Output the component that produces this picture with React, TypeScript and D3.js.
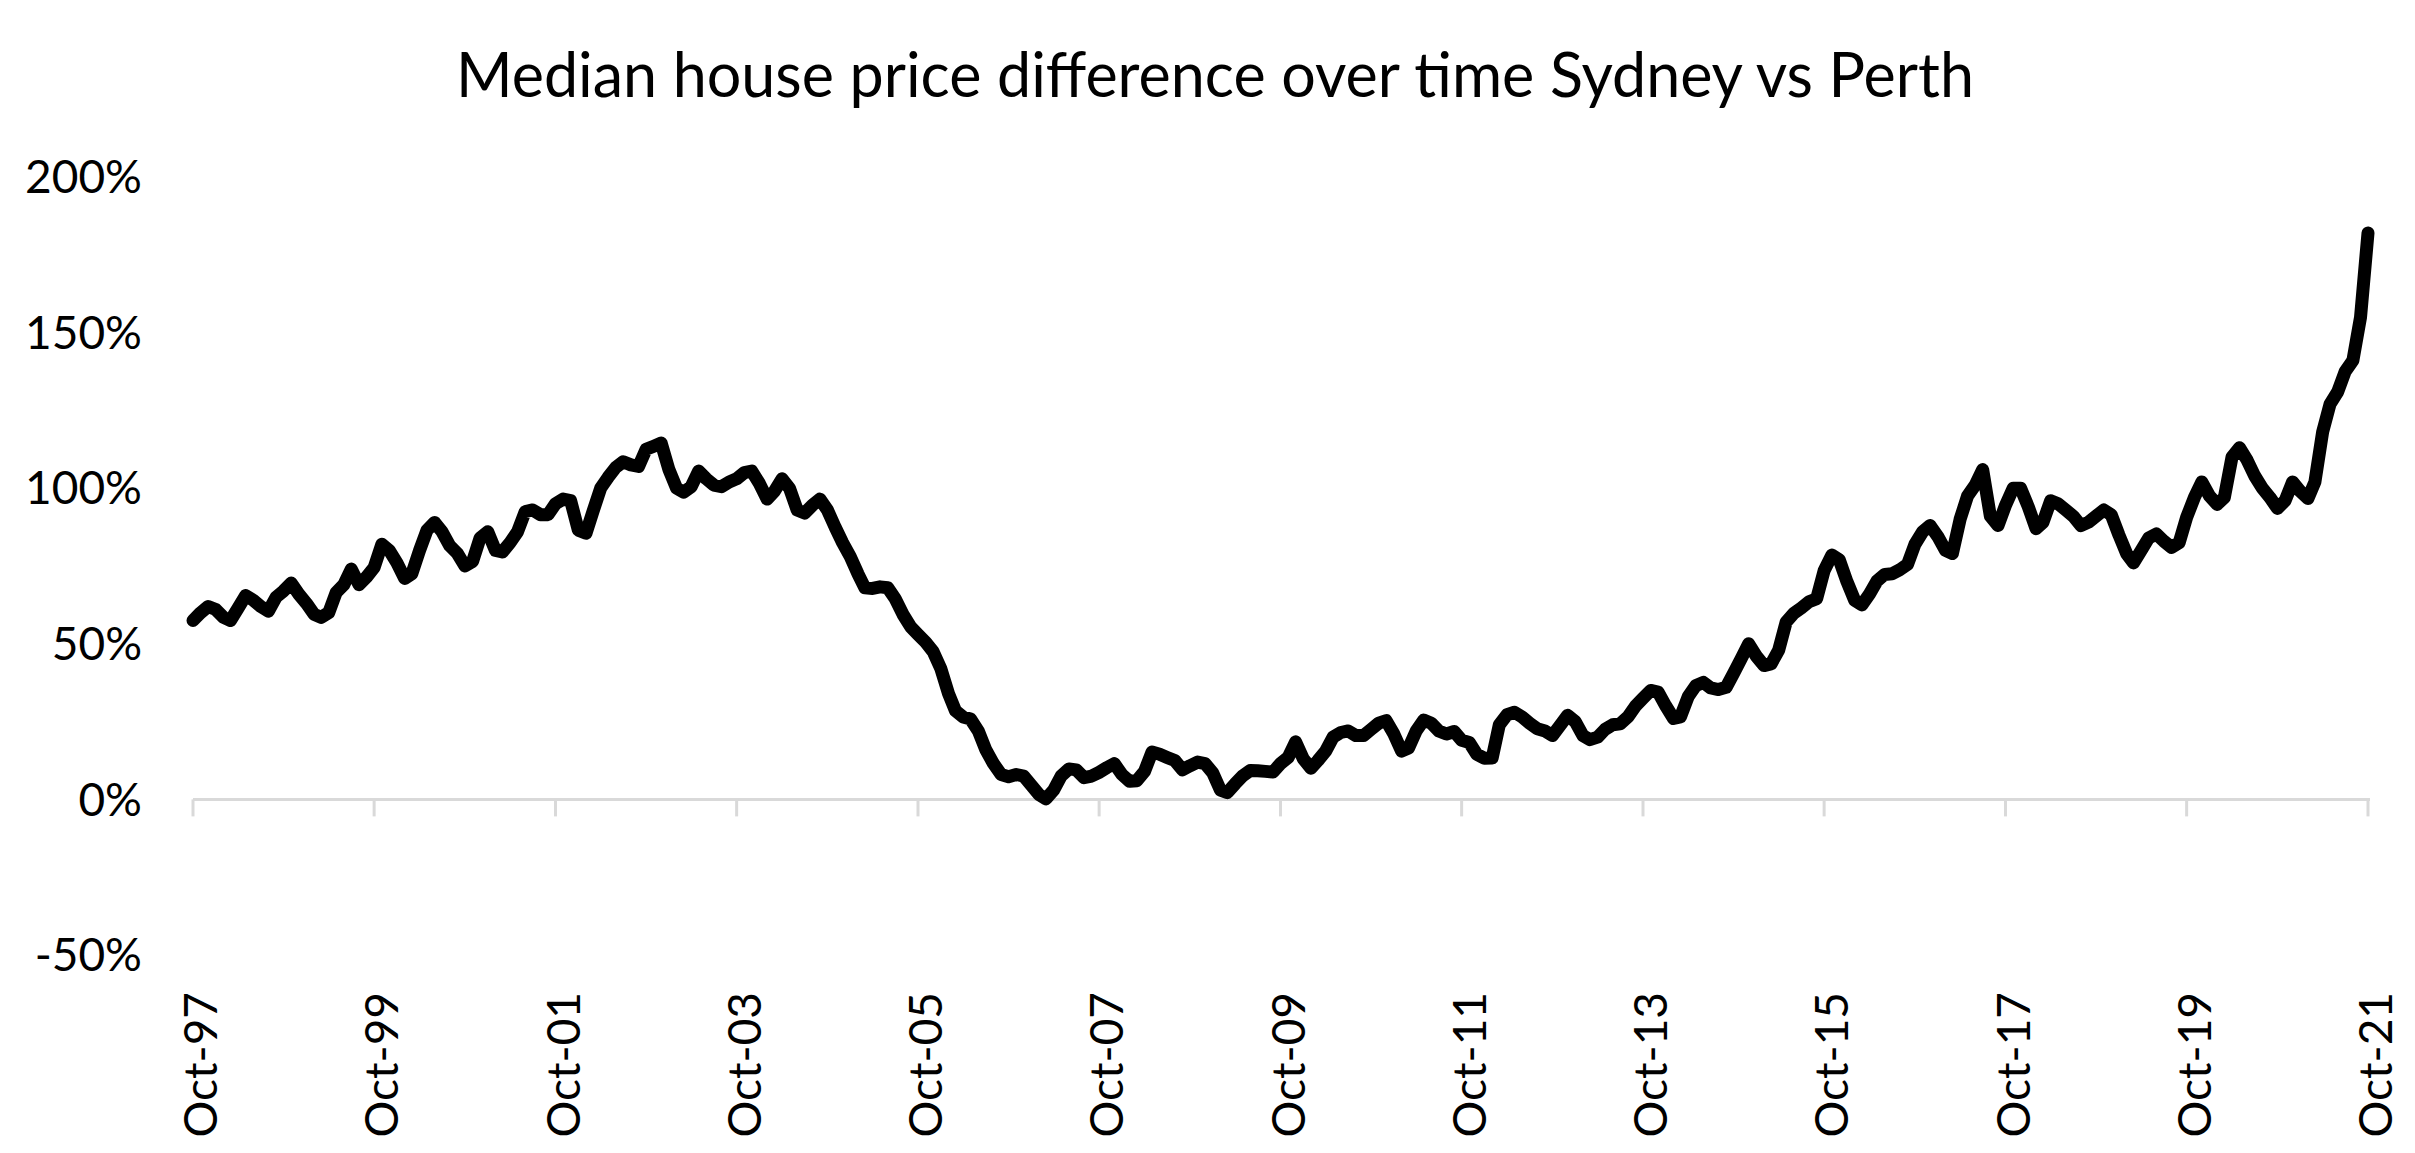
import { useEffect } from "react";
import * as d3 from "d3";

// monthly values, Oct-97 .. Oct-21 (% difference Sydney vs Perth median house price)
const startDate = new Date(1997, 9, 1);
const values: number[] = [
  57.5, 60, 62, 61, 58.5, 57.5, 61.5, 65.5, 64, 62, 60.5, 65,
  67, 69.5, 66, 63, 59.5, 58.5, 60, 66.5, 69, 74, 69, 71.5,
  74.5, 82, 80, 76, 71, 72.5, 80, 86.5, 89, 86, 81.5, 79,
  75, 76.5, 84, 86, 80, 79.5, 82.5, 86, 92.5, 93, 91.5, 91.5,
  95, 96.5, 96, 86.5, 85.5, 92.5, 100, 103.5, 106.7, 108.5, 107.5, 107,
  112.5, 113.5, 114.5, 106, 100, 98.7, 100.5, 105.5, 103, 101, 100.5, 102,
  103, 105, 105.5, 101.5, 96.5, 99, 103, 100, 93, 92, 94.5, 96.5,
  93, 87.5, 82.5, 78, 72.5, 68, 67.8, 68.3, 68, 64.5, 59.5, 55.5,
  53, 50.5, 47.5, 42, 34, 28.5, 26.5, 25.8, 22, 16, 11.5, 8,
  7.3, 8, 7.5, 4.5, 1.5, 0.2, 3, 7.5, 9.8, 9.5, 7, 7.5,
  8.7, 10.2, 11.5, 8, 5.8, 6, 9, 15.2, 14.5, 13.5, 12.5, 9.5,
  10.8, 12, 11.5, 8.5, 3, 2.2, 5, 7.5, 9.3, 9.2, 9, 8.8,
  11.5, 13.5, 18.5, 13, 10, 12.5, 15.5, 20, 21.5, 22, 20.5, 20.5,
  22.5, 24.5, 25.3, 21, 15.5, 16.5, 22, 25.5, 24.5, 22, 21, 21.8,
  19, 18.3, 14.5, 13.2, 13.3, 24, 27.2, 28, 26.5, 24.5, 22.7, 22,
  20.5, 23.8, 27, 25, 20.5, 19.2, 20, 22.5, 24, 24.3, 26.5, 30,
  32.5, 35, 34.5, 30, 26, 26.5, 33, 36.5, 37.6, 35.8, 35.3, 36,
  40.5, 45.3, 50, 46, 43, 43.5, 48, 57, 59.8, 61.5, 63.5, 64.5,
  73.5, 78.5, 77, 70, 64, 62.5, 66, 70.2, 72.3, 72.5, 73.8, 75.5,
  82, 86, 88, 84.5, 80, 79, 90, 97.5, 101, 106, 91, 88,
  94.5, 100, 100, 94, 87, 89, 96, 95, 93, 91, 88, 89.1,
  91, 93, 91.5, 85, 79, 76, 80, 84, 85.3, 83, 81, 82.5,
  90.6, 97, 102, 97.5, 94.8, 97, 110, 113, 109, 104, 100, 97,
  93.5, 96, 102, 99, 96.7, 102, 118, 127, 131, 137.5, 141, 155,
  182,
];

const xTickLabels = [
  "Oct-97", "Oct-99", "Oct-01", "Oct-03", "Oct-05", "Oct-07", "Oct-09",
  "Oct-11", "Oct-13", "Oct-15", "Oct-17", "Oct-19", "Oct-21",
];
const yTicks = [-50, 0, 50, 100, 150, 200];
const title = "Median house price difference over time Sydney vs Perth";

const W = 2415;
const H = 1153;
const FONT = "Lato, 'Open Sans', sans-serif";

export default function App() {
  useEffect(() => {
    document.body.style.margin = "0";
  }, []);

  const dates = values.map((_, i) => d3.timeMonth.offset(startDate, i));
  const endDate = dates[dates.length - 1];

  const x = d3.scaleTime().domain([startDate, endDate]).range([193, 2368]);
  const y = d3.scaleLinear().domain([-50, 200]).range([955, 177]);

  const line = d3
    .line<number>()
    .x((_, i) => x(dates[i]))
    .y((d) => y(d));

  const tickDates = xTickLabels.map((_, i) => d3.timeMonth.offset(startDate, i * 24));
  const y0 = y(0);

  return (
    <svg width={W} height={H} style={{ display: "block", background: "#fff" }}>
      <text
        x={1215}
        y={97}
        textAnchor="middle"
        fontFamily={FONT}
        fontSize={61}
        fill="#000"
      >
        {title}
      </text>

      {yTicks.map((t) => (
        <text
          key={t}
          x={142}
          y={y(t)}
          dy="0.35em"
          textAnchor="end"
          fontFamily={FONT}
          fontSize={46}
          fill="#000"
        >
          {t + "%"}
        </text>
      ))}

      <line
        x1={x(startDate)}
        x2={x(endDate) + 2}
        y1={y0}
        y2={y0}
        stroke="#d9d9d9"
        strokeWidth={3}
      />
      {tickDates.map((d, i) => (
        <g key={i}>
          <line x1={x(d)} x2={x(d)} y1={y0} y2={y0 + 17} stroke="#d9d9d9" strokeWidth={3} />
          <text
            transform={`translate(${x(d) + 24},992) rotate(-90)`}
            textAnchor="end"
            fontFamily={FONT}
            fontSize={46}
            fill="#000"
          >
            {xTickLabels[i]}
          </text>
        </g>
      ))}

      <path
        d={line(values) ?? ""}
        fill="none"
        stroke="#000"
        strokeWidth={13}
        strokeLinejoin="round"
        strokeLinecap="round"
      />
    </svg>
  );
}
